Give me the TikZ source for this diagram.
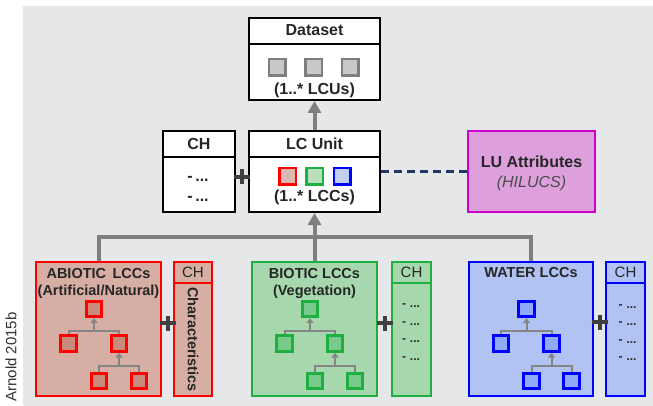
\documentclass[tikz,border=0pt]{standalone}
\usepackage{fontspec}
\setmainfont{Liberation Sans}
\usetikzlibrary{arrows.meta}
\definecolor{bg}{HTML}{E6E7E9}
\definecolor{abfill}{HTML}{D7AEA3}
\definecolor{absq}{HTML}{C98B7C}
\definecolor{abdraw}{HTML}{FF0000}
\definecolor{biofill}{HTML}{A7D8AD}
\definecolor{biosq}{HTML}{79C98A}
\definecolor{biodraw}{HTML}{1DB040}
\definecolor{wfill}{HTML}{B1C3F3}
\definecolor{wsq}{HTML}{8FAAF6}
\definecolor{wdraw}{HTML}{0000FF}
\definecolor{lufill}{HTML}{DDA0DC}
\definecolor{ludraw}{HTML}{CC00CC}
\definecolor{mline}{HTML}{7F7F7F}
\definecolor{tline}{HTML}{858585}
\definecolor{plusc}{HTML}{404040}
\definecolor{navy}{HTML}{1F3864}
\definecolor{txt}{HTML}{262626}
\newcommand\mytree[3]{%
  \node[#3] (#1a) at (#2-4.5,309) {};
  \node[#3] (#1b) at (#2-30,343.5) {};
  \node[#3] (#1c) at (#2+20.5,343.5) {};
  \node[#3] (#1d) at (#2+0.5,381) {};
  \node[#3] (#1e) at (#2+40.5,381) {};
  \coordinate (#1y1) at (0,331);
  \coordinate (#1y2) at (0,366);
  \draw[treeln] (#1b.north) -- (#1b.north |- #1y1) -- (#1c.north |- #1y1) -- (#1c.north);
  \draw[treeln,-{Triangle[width=7pt,length=5pt]}] (#1a.south |- #1y1) -- (#1a.south);
  \draw[treeln] (#1d.north) -- (#1d.north |- #1y2) -- (#1e.north |- #1y2) -- (#1e.north);
  \draw[treeln,-{Triangle[width=7pt,length=5pt]}] (#1c.south |- #1y2) -- (#1c.south);
}
\newcommand\myplus[1]{%
  \draw[plusln] ([xshift=-8pt]#1) -- ([xshift=8pt]#1) ([yshift=-7.5pt]#1) -- ([yshift=7.5pt]#1);
}
\begin{document}
\begin{tikzpicture}[x=1pt,y=-1pt,
  every node/.style={text=txt, inner sep=0pt},
  bigf/.style={font=\fontsize{16}{19}\selectfont\bfseries},
  midf/.style={font=\fontsize{14.5}{17}\selectfont\bfseries},
  smf/.style={font=\fontsize{15}{18}\selectfont},
  dotf/.style={font=\fontsize{12}{14}\selectfont\bfseries},
  wbox/.style={draw=black, line width=2pt, fill=white, rectangle},
  hdr/.style={line width=2pt, draw=black},
  gsq/.style={rectangle, draw=mline, fill=black!21, line width=2.5pt, minimum size=16.5pt},
  csq/.style={rectangle, line width=2.5pt, minimum size=16.5pt},
  tsq/.style={rectangle, line width=2.8pt, minimum size=15.5pt},
  absqs/.style={tsq, draw=abdraw, fill=absq},
  biosqs/.style={tsq, draw=biodraw, fill=biosq},
  wsqs/.style={tsq, draw=wdraw, fill=wsq},
  treeln/.style={draw=tline, line width=2pt},
  mainln/.style={draw=mline, line width=4pt},
  plusln/.style={draw=plusc, line width=4pt},
  cbox/.style={rectangle, line width=2pt},
]
\useasboundingbox (0,0) rectangle (653,406);
\fill[bg] (23,6) rectangle (653,406);

% Dataset
\node[wbox, minimum width=131pt, minimum height=82pt] (dataset) at (314.5,59) {};
\draw[hdr] ([yshift=-27pt]dataset.north west) -- ([yshift=-27pt]dataset.north east);
\node[bigf] (datasetT) at (314.5,30.5) {Dataset};
\node[gsq] (ds1) at (277,67.5) {};
\node[gsq] (ds2) at (313.5,67.5) {};
\node[gsq] (ds3) at (350,67.5) {};
\node[bigf] (dsT2) at (314.5,90) {(1..* LCUs)};

% LC Unit
\node[wbox, minimum width=131pt, minimum height=81pt] (lcunit) at (314.5,171.5) {};
\draw[hdr] ([yshift=-27pt]lcunit.north west) -- ([yshift=-27pt]lcunit.north east);
\node[bigf] (lcunitT) at (314.5,143.5) {LC Unit};
\node[csq, draw=abdraw, fill=abfill!85!white] (lc1) at (287.5,176.5) {};
\node[csq, draw=biodraw, fill=biofill!80!white] (lc2) at (314.5,176.5) {};
\node[csq, draw=wdraw, fill=wfill!80!white] (lc3) at (342,176.5) {};
\node[bigf] (lcT2) at (314.5,197) {(1..* LCCs)};

% CH top
\node[wbox, minimum width=72pt, minimum height=81pt] (chtop) at (199,171.5) {};
\draw[hdr] ([yshift=-27pt]chtop.north west) -- ([yshift=-27pt]chtop.north east);
\node[bigf] (chtopT) at (199,143.5) {CH};
\node[bigf] (chtop1) at (198,179) {-\,...};
\node[bigf] (chtop2) at (198,199) {-\,...};
\coordinate (p0) at (242,177);
\myplus{p0}

% LU attributes
\node[rectangle, draw=ludraw, fill=lufill, line width=2pt, minimum width=127pt, minimum height=81pt] (lu) at (531.5,171.5) {};
\node[bigf] (luT) at (531.5,162) {LU Attributes};
\node[font=\fontsize{16}{19}\selectfont\itshape, text=black!70] (luT2) at (531.5,183.5) {(HILUCS)};
\draw[draw=navy, line width=3pt, dash pattern=on 8pt off 5pt] (lcunit.east |- lu.west) -- (lu.west);

% Dataset arrow
\draw[mainln, -{Triangle[width=13pt,length=12pt]}] (lcunit.north) -- (dataset.south);

% Lower boxes
\node[cbox, draw=abdraw, fill=abfill, minimum width=125pt, minimum height=134pt] (abiotic) at (98.5,328.5) {};
\node[cbox, draw=abdraw, fill=abfill, minimum width=38pt, minimum height=134pt] (abch) at (193,328.5) {};
\draw[line width=2pt, draw=abdraw] ([yshift=-22pt]abch.north west) -- ([yshift=-22pt]abch.north east);
\node[midf] (abT1) at (98.5,274) {ABIOTIC\, LCCs};
\node[midf] (abT2) at (98.5,292) {(Artificial/Natural)};
\node[smf] (abchT) at (193,272) {CH};
\node[midf, rotate=-90] (abchar) at (193,339.5) {Characteristics};
\mytree{ab}{98.5}{absqs}
\coordinate (p1) at (167.5,323);
\myplus{p1}

\node[cbox, draw=biodraw, fill=biofill, minimum width=125pt, minimum height=134pt] (biotic) at (314.5,328.5) {};
\node[cbox, draw=biodraw, fill=biofill, minimum width=39pt, minimum height=134pt] (bioch) at (411.5,328.5) {};
\draw[line width=2pt, draw=biodraw] ([yshift=-22pt]bioch.north west) -- ([yshift=-22pt]bioch.north east);
\node[midf] (bioT1) at (314.5,274) {BIOTIC LCCs};
\node[midf] (bioT2) at (314.5,292) {(Vegetation)};
\node[smf] (biochT) at (411.5,272) {CH};
\foreach \k/\yy in {1/306,2/323.5,3/341,4/358.5}{
  \node[dotf] (bioi\k) at (411,\yy) {-\hspace{4pt}...};
}
\mytree{bio}{314.5}{biosqs}
\coordinate (p2) at (384.5,323);
\myplus{p2}

\node[cbox, draw=wdraw, fill=wfill, minimum width=124pt, minimum height=134pt] (water) at (531,328.5) {};
\node[cbox, draw=wdraw, fill=wfill, minimum width=39pt, minimum height=134pt] (wch) at (625.5,328.5) {};
\draw[line width=2pt, draw=wdraw] ([yshift=-22pt]wch.north west) -- ([yshift=-22pt]wch.north east);
\node[midf] (wT1) at (531,273) {WATER LCCs};
\node[smf] (wchT) at (625.5,272) {CH};
\foreach \k/\yy in {1/307,2/324,3/341.5,4/359}{
  \node[dotf] (wi\k) at (627.5,\yy) {-\hspace{4pt}...};
}
\mytree{w}{531}{wsqs}
\coordinate (p3) at (599.5,322);
\myplus{p3}

% main connectors
\coordinate (hub) at (0,237);
\draw[mainln] (abiotic.north) -- (abiotic.north |- hub) -- (water.north |- hub) -- (water.north);
\draw[mainln, -{Triangle[width=13pt,length=12pt]}] (biotic.north) -- (lcunit.south);

\node[smf, rotate=90, text=black!80] (cite) at (11,357) {Arnold 2015b};
\end{tikzpicture}
\end{document}
